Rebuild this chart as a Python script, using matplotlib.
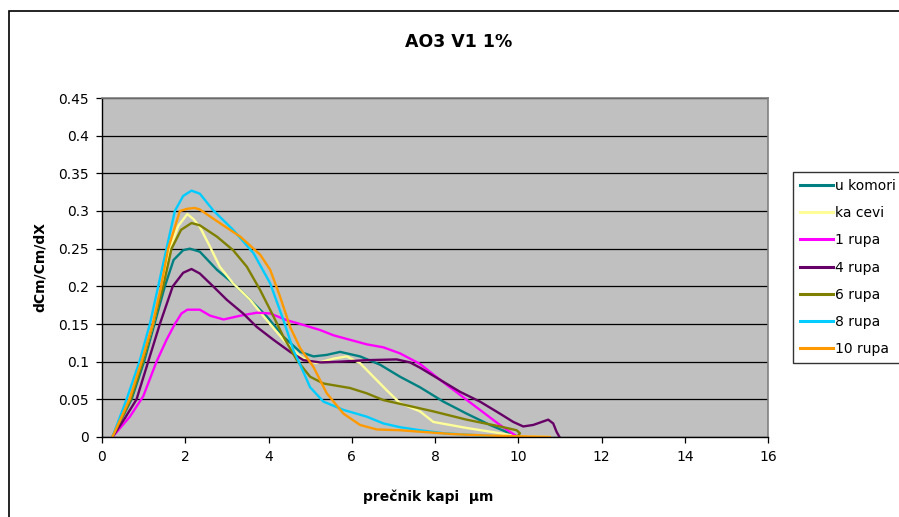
import matplotlib
matplotlib.use("Agg")
import matplotlib.pyplot as plt
from matplotlib.patches import Rectangle

plt.rcParams['font.family'] = ['DejaVu Sans']

# Droplet diameter distributions (x in µm, y = dCm/Cm/dX)
u_komori_x = [0.25, 0.71, 1.01, 1.26, 1.51, 1.72, 1.95, 2.11, 2.35, 2.76, 3.15, 3.56, 3.96,
              4.36, 4.76, 5.08, 5.4, 5.72, 6.2, 6.68, 7.16, 7.64, 8.2, 8.76, 9.32, 9.88, 10.0]
u_komori_y = [0, 0.05, 0.10, 0.15, 0.20, 0.235, 0.248, 0.250, 0.246, 0.222, 0.204, 0.182, 0.160,
              0.133, 0.113, 0.107, 0.109, 0.113, 0.107, 0.096, 0.080, 0.066, 0.047, 0.031, 0.016, 0.003, 0.0]

ka_cevi_x = [0.25, 0.67, 0.97, 1.23, 1.45, 1.63, 1.83, 2.05, 2.2, 2.35, 2.6, 2.83, 3.15, 3.56,
             3.96, 4.36, 4.76, 5.0, 5.16, 5.56, 5.88, 6.2, 6.52, 6.84, 7.16, 7.64, 7.96, 8.76,
             9.56, 9.96, 10.76]
ka_cevi_y = [0, 0.05, 0.10, 0.15, 0.20, 0.25, 0.28, 0.296, 0.289, 0.279, 0.252, 0.226, 0.204, 0.182,
             0.155, 0.129, 0.107, 0.100, 0.098, 0.104, 0.107, 0.098, 0.080, 0.062, 0.045, 0.034, 0.020, 0.012,
             0.005, 0.001, 0.0]

rupa1_x = [0.25, 0.67, 0.99, 1.31, 1.55, 1.75, 1.91, 2.05, 2.35, 2.6, 2.92, 3.32, 3.72, 4.04,
           4.44, 4.76, 5.24, 5.56, 6.36, 6.76, 7.16, 7.64, 8.12, 8.6, 9.08, 9.56, 9.96]
rupa1_y = [0, 0.027, 0.054, 0.10, 0.129, 0.15, 0.164, 0.169, 0.169, 0.161, 0.156, 0.161, 0.165, 0.164,
           0.155, 0.150, 0.142, 0.135, 0.123, 0.119, 0.111, 0.097, 0.076, 0.056, 0.036, 0.016, 0.001]

rupa4_x = [0.25, 0.55, 0.83, 1.11, 1.39, 1.70, 1.95, 2.15, 2.35, 2.67, 3.0, 3.39, 3.72, 4.12,
           4.52, 4.84, 5.24, 5.72, 6.36, 7.08, 7.4, 7.64, 8.12, 8.6, 9.08, 9.56, 9.88, 10.12,
           10.36, 10.72, 10.84, 10.92, 10.99]
rupa4_y = [0, 0.025, 0.05, 0.10, 0.15, 0.20, 0.218, 0.223, 0.217, 0.200, 0.182, 0.164, 0.146, 0.129,
           0.113, 0.102, 0.099, 0.100, 0.102, 0.103, 0.099, 0.092, 0.076, 0.060, 0.047, 0.031, 0.020, 0.014,
           0.016, 0.023, 0.018, 0.007, 0.0]

rupa6_x = [0.25, 0.69, 0.98, 1.23, 1.47, 1.67, 1.9, 2.15, 2.35, 2.76, 3.15, 3.48, 3.8, 4.12,
           4.36, 4.68, 5.0, 5.32, 5.96, 6.36, 6.76, 7.16, 7.64, 7.96, 8.76, 9.56, 9.96, 10.04, 10.0]
rupa6_y = [0, 0.05, 0.10, 0.15, 0.20, 0.25, 0.275, 0.284, 0.281, 0.266, 0.248, 0.226, 0.195, 0.160,
           0.133, 0.102, 0.080, 0.071, 0.065, 0.058, 0.049, 0.044, 0.038, 0.034, 0.023, 0.014, 0.009, 0.005, 0.002]

rupa8_x = [0.25, 0.59, 0.90, 1.15, 1.35, 1.55, 1.75, 1.95, 2.15, 2.35, 2.67, 3.15, 3.64, 4.04,
           4.36, 4.6, 4.76, 5.0, 5.32, 5.8, 6.36, 6.76, 7.16, 7.64, 8.2, 8.8, 9.4, 10.0]
rupa8_y = [0, 0.05, 0.10, 0.15, 0.20, 0.25, 0.30, 0.32, 0.327, 0.323, 0.301, 0.275, 0.244, 0.204,
           0.155, 0.115, 0.096, 0.066, 0.047, 0.036, 0.027, 0.018, 0.013, 0.009, 0.005, 0.003, 0.001, 0.0]

rupa10_x = [0.25, 0.66, 0.95, 1.22, 1.42, 1.59, 1.87, 2.05, 2.23, 2.35, 2.83, 3.32, 3.8, 4.04,
            4.28, 4.52, 4.76, 5.08, 5.4, 5.8, 6.2, 6.6, 7.16, 7.64, 8.4, 9.2, 10.0, 10.76]
rupa10_y = [0, 0.05, 0.10, 0.15, 0.20, 0.25, 0.30, 0.303, 0.304, 0.302, 0.284, 0.266, 0.242, 0.222,
            0.186, 0.146, 0.118, 0.093, 0.058, 0.031, 0.016, 0.010, 0.009, 0.007, 0.004, 0.002, 0.001, 0.0]

labels = ["u komori", "ka cevi", "1 rupa", "4 rupa", "6 rupa", "8 rupa", "10 rupa"]
colors = ["#008080", "#FFFF99", "#FF00FF", "#660066", "#808000", "#00CCFF", "#FF9900"]
series = [(u_komori_x, u_komori_y), (ka_cevi_x, ka_cevi_y), (rupa1_x, rupa1_y),
          (rupa4_x, rupa4_y), (rupa6_x, rupa6_y), (rupa8_x, rupa8_y), (rupa10_x, rupa10_y)]

x_ticks = [0, 2, 4, 6, 8, 10, 12, 14, 16]
y_ticks = [0, 0.05, 0.1, 0.15, 0.2, 0.25, 0.3, 0.35, 0.4, 0.45]
y_tick_labels = ["0", "0.05", "0.1", "0.15", "0.2", "0.25", "0.3", "0.35", "0.4", "0.45"]

W, H = 899, 517
fig = plt.figure(figsize=(W / 100, H / 100), dpi=100)

# outer chart border
fig.patches.append(Rectangle((9 / W, -0.1), 1.2, 1 - 11 / H + 0.1, transform=fig.transFigure,
                             fill=False, edgecolor="black", linewidth=1.2))

ax = fig.add_axes([102 / W, 1 - 437 / H, (768 - 102) / W, (437 - 98) / H])
ax.set_facecolor("#C0C0C0")

for (xs, ys), c, lab in zip(series, colors, labels):
    ax.plot(xs, ys, color=c, linewidth=1.7, label=lab, solid_joinstyle="round")

ax.set_xlim(0, 16)
ax.set_ylim(0, 0.45)
ax.set_xticks(x_ticks)
ax.set_yticks(y_ticks)
ax.set_yticklabels(y_tick_labels)
ax.yaxis.grid(True, color="black", linewidth=0.9)
ax.set_axisbelow(True)
ax.tick_params(direction="out", length=4.5, width=0.9, labelsize=10, pad=5, color="black")

for side in ("left", "bottom"):
    ax.spines[side].set_color("black")
    ax.spines[side].set_linewidth(1.0)
for side in ("top", "right"):
    ax.spines[side].set_color("#808080")
    ax.spines[side].set_linewidth(1.2)

fig.text(459 / W, 1 - 42 / H, "AO3 V1 1%", ha="center", va="center", fontsize=12.5, fontweight="bold")
fig.text(40 / W, 1 - 267 / H, "dCm/Cm/dX", ha="center", va="center", rotation=90,
         fontsize=10, fontweight="bold")
fig.text(428 / W, 1 - 497 / H, "prečnik kapi  µm", ha="center", va="center", fontsize=10,
         fontweight="bold")

leg = fig.legend(loc="upper left", bbox_to_anchor=(793 / W, 1 - 172 / H), fontsize=10,
                 frameon=True, fancybox=False, handlelength=2.35, handletextpad=0.15,
                 labelspacing=0.95, borderpad=0.5, borderaxespad=0)
leg.get_frame().set_edgecolor("black")
leg.get_frame().set_linewidth(1.0)
for ln in leg.get_lines():
    ln.set_linewidth(2.2)

fig.savefig("out.png", dpi=100)
